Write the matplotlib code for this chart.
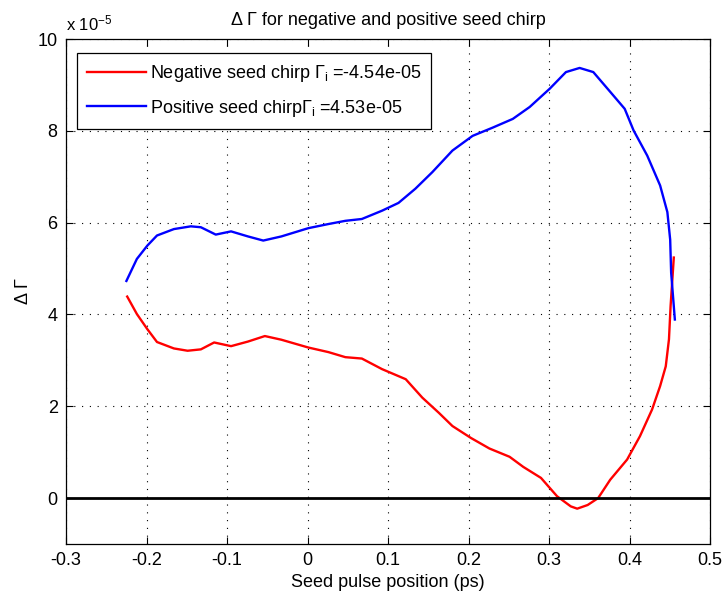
import matplotlib.pyplot as plt
import numpy as np

plt.rcParams['font.family'] = ['Liberation Sans', 'DejaVu Sans']
plt.rcParams['mathtext.fontset'] = 'custom'
plt.rcParams['mathtext.rm'] = 'Liberation Sans'
plt.rcParams['mathtext.it'] = 'Liberation Sans'

# values in units of 1e-5
neg_x = np.array([-0.224, -0.212, -0.199, -0.187, -0.166, -0.149, -0.1325, -0.116, -0.095, -0.074,
                  -0.053, -0.0325, 0.001, 0.026, 0.047, 0.0675, 0.0925, 0.122, 0.1425, 0.163,
                  0.18, 0.203, 0.226, 0.251, 0.268, 0.290, 0.310, 0.327, 0.335, 0.348,
                  0.361, 0.376, 0.397, 0.413, 0.428, 0.438, 0.445, 0.449, 0.451, 0.455])
neg_y = np.array([4.39, 4.01, 3.68, 3.40, 3.26, 3.21, 3.24, 3.39, 3.31, 3.41,
                  3.53, 3.45, 3.28, 3.18, 3.07, 3.04, 2.81, 2.59, 2.19, 1.86,
                  1.57, 1.31, 1.08, 0.90, 0.68, 0.44, 0.04, -0.18, -0.23, -0.15,
                  0.0, 0.40, 0.84, 1.35, 1.93, 2.44, 2.87, 3.46, 4.18, 5.24])

pos_x = np.array([-0.225, -0.212, -0.199, -0.187, -0.166, -0.145, -0.1325, -0.114, -0.095, -0.074,
                  -0.055, -0.0325, 0.001, 0.026, 0.047, 0.0675, 0.0925, 0.113, 0.134, 0.155,
                  0.18, 0.205, 0.23, 0.255, 0.276, 0.301, 0.321, 0.338, 0.355, 0.376,
                  0.394, 0.405, 0.422, 0.438, 0.447, 0.4505, 0.4517, 0.455, 0.4563])
pos_y = np.array([4.73, 5.21, 5.50, 5.72, 5.86, 5.92, 5.90, 5.74, 5.81, 5.70,
                  5.61, 5.70, 5.88, 5.97, 6.04, 6.08, 6.26, 6.43, 6.74, 7.10,
                  7.57, 7.89, 8.07, 8.26, 8.52, 8.92, 9.28, 9.37, 9.28, 8.85,
                  8.48, 8.01, 7.46, 6.81, 6.23, 5.63, 4.91, 4.18, 3.89])

neg_label = r"Negative seed chirp $\Gamma_\mathrm{i}$ =-4.54e-05"
pos_label = r"Positive seed chirp$\Gamma_\mathrm{i}$ =4.53e-05"

fig = plt.figure(figsize=(7.24, 6.05), dpi=100)
ax = fig.add_axes([0.0912, 0.1008, 0.8895, 0.8347])

ax.plot(neg_x, neg_y, color='#ff0000', lw=1.7, label=neg_label)
ax.plot(pos_x, pos_y, color='#0000ff', lw=1.7, label=pos_label)
ax.axhline(0, color='black', lw=2)

ax.set_xlim(-0.3, 0.5)
ax.set_ylim(-1, 10)
ax.set_xticks(np.arange(-0.3, 0.51, 0.1))
ax.set_xticklabels(['-0.3', '-0.2', '-0.1', '0', '0.1', '0.2', '0.3', '0.4', '0.5'])
ax.set_yticks([0, 2, 4, 6, 8, 10])
ax.grid(True, color='black', linestyle=(0, (1, 6)), lw=0.8)
ax.tick_params(direction='in', top=True, right=True, labelsize=13, length=5, pad=6)
for s in ax.spines.values():
    s.set_linewidth(0.9)

ax.set_title("Δ Γ for negative and positive seed chirp", fontsize=13, pad=10)
ax.set_xlabel("Seed pulse position (ps)", fontsize=13, labelpad=3)
ax.set_ylabel("Δ Γ", fontsize=13, labelpad=4)
ax.text(0.0, 1.012, r"x 10$^{-5}$", transform=ax.transAxes, fontsize=12, va='bottom', ha='left')

leg = ax.legend(loc='upper left', bbox_to_anchor=(0.017, 0.972), borderaxespad=0, fontsize=13,
                fancybox=False, framealpha=1, edgecolor='black', handlelength=3.3,
                handletextpad=0.2, borderpad=0.55, labelspacing=0.75)
leg.get_frame().set_linewidth(0.9)

fig.savefig('out.png', dpi=100)
